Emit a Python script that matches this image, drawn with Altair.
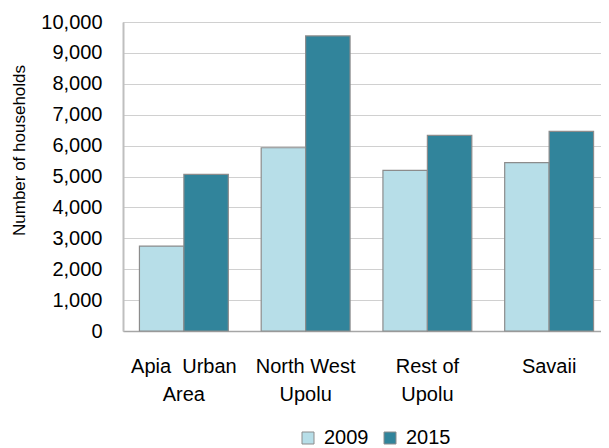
import altair as alt
import pandas as pd

regions = ["Apia\u00a0 Urban\nArea", "North West\nUpolu", "Rest of\nUpolu", "Savaii"]
years = ["2009", "2015"]
v2009 = [2750, 5930, 5200, 5450]
v2015 = [5070, 9550, 6330, 6460]
y_ticks = [0, 1000, 2000, 3000, 4000, 5000, 6000, 7000, 8000, 9000, 10000]
colors = ["#B7DEE8", "#31849B"]

rows = []
for i, r in enumerate(regions):
    rows.append({"region": r, "year": years[0], "households": v2009[i]})
    rows.append({"region": r, "year": years[1], "households": v2015[i]})
df = pd.DataFrame(rows)

FONT = "Liberation Sans"

chart = alt.Chart(df).mark_bar(stroke="#8C8C8C", strokeWidth=1.2).encode(
    x=alt.X(
        "region:N",
        sort=regions,
        scale=alt.Scale(range=[0, 487], paddingInner=0.27, paddingOuter=0.135),
        axis=alt.Axis(
            title=None,
            labelAngle=0,
            labelExpr="split(datum.label, '\\n')",
            labelFontSize=20,
            labelLineHeight=28,
            labelPadding=25,
            labelBaseline="top",
            labelColor="black",
            ticks=False,
            tickSize=0,
            domainColor="#A6A6A6",
            domainWidth=1.5,
            grid=False,
        ),
    ),
    xOffset=alt.XOffset("year:N", sort=years),
    y=alt.Y(
        "households:Q",
        scale=alt.Scale(domain=[0, 10000], nice=False),
        axis=alt.Axis(
            title="Number of households",
            titleFontSize=17,
            titleFontWeight="normal",
            titleColor="black",
            titleAngle=270,
            titleAlign="center",
            titleBaseline="bottom",
            titleX=-95,
            titleY=128,
            values=y_ticks,
            format=",.0f",
            labelFontSize=20,
            labelColor="black",
            labelPadding=21,
            ticks=False,
            tickSize=0,
            domainColor="#BFBFBF",
            domainWidth=2,
            gridColor="#A0A0A0",
            gridDash=[1, 1],
            gridWidth=1,
        ),
    ),
    color=alt.Color(
        "year:N",
        scale=alt.Scale(domain=years, range=colors),
        legend=alt.Legend(
            title=None,
            orient="none",
            legendX=175,
            legendY=406,
            direction="horizontal",
            symbolType="square",
            symbolSize=144,
            symbolStrokeColor="#8C8C8C",
            symbolStrokeWidth=1,
            labelFontSize=20,
            labelColor="black",
            labelOffset=6,
            columnPadding=11,
            padding=0,
        ),
    ),
).properties(
    width=478,
    height=309,
    autosize=alt.AutoSizeParams(type="none"),
    padding={"left": 115, "top": 14, "right": 0, "bottom": 117},
).configure(
    font=FONT,
).configure_view(
    stroke=None,
)

chart.save("out.html", embed_options={"renderer": "svg", "actions": False})
